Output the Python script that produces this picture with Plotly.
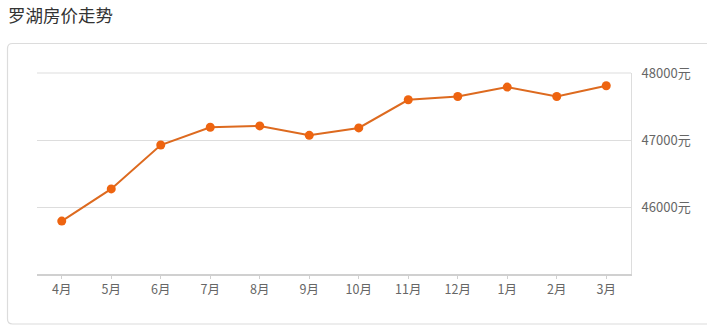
import plotly.graph_objects as go

months = ["4月", "5月", "6月", "7月", "8月", "9月", "10月", "11月", "12月", "1月", "2月", "3月"]
prices = [45790, 46270, 46925, 47190, 47210, 47070, 47180, 47600, 47650, 47790, 47650, 47810]
y_tickvals = [46000, 47000, 48000]
y_ticktext = ["46000元", "47000元", "48000元"]
title_text = "罗湖房价走势"

W, H = 707, 336
L, R, T, B = 37, 631, 73, 274

def px(x):
    return (x - L) / (R - L)

def py(y):
    return (B - y) / (B - T)

fig = go.Figure()
fig.add_trace(go.Scatter(
    x=months, y=prices, mode="lines+markers",
    line=dict(color="#dd6a1f", width=2),
    marker=dict(color="#ee6410", size=9),
    hoverinfo="skip", showlegend=False,
))

# card border with rounded corners
x0, x1, y0, y1, r = 7.5, 730, 43.5, 324, 5
path = (f"M {px(x0+r)},{py(y0)} L {px(x1)},{py(y0)} L {px(x1)},{py(y1)} "
        f"L {px(x0+r)},{py(y1)} Q {px(x0)},{py(y1)} {px(x0)},{py(y1-r)} "
        f"L {px(x0)},{py(y0+r)} Q {px(x0)},{py(y0)} {px(x0+r)},{py(y0)} Z")
fig.add_shape(type="path", path=path, xref="paper", yref="paper",
              line=dict(color="#dcdcdc", width=1.2), layer="below")

fig.add_annotation(text=title_text, x=px(6), y=py(15), xref="paper", yref="paper",
                   xanchor="left", yanchor="middle", showarrow=False,
                   font=dict(size=17.5, color="#333333", family="Noto Sans CJK SC"))

fig.update_layout(
    width=W, height=H,
    margin=dict(l=L, r=W - R, t=T, b=H - B),
    paper_bgcolor="white", plot_bgcolor="white",
    font=dict(family="Noto Sans CJK SC", size=12, color="#666666"),
    xaxis=dict(
        type="category", range=[-0.5, 11.5],
        showline=True, linecolor="#d0d0d0", linewidth=2,
        ticks="outside", ticklen=3, tickcolor="#d0d0d0",
        showgrid=False, zeroline=False,
        tickfont=dict(size=12.5, color="#666666"),
    ),
    yaxis=dict(
        side="right", range=[45000, 48000],
        tickvals=y_tickvals, ticktext=y_ticktext,
        showgrid=True, gridcolor="#dddddd", gridwidth=1,
        showline=True, linecolor="#dddddd", linewidth=1,
        ticks="", ticklabelstandoff=7, zeroline=False,
        tickfont=dict(size=13, color="#666666"),
    ),
)
fig.add_shape(type="line", xref="paper", yref="paper", x0=0, x1=1, y0=1, y1=1,
              line=dict(color="#dddddd", width=1))

fig.write_html("out.html")
